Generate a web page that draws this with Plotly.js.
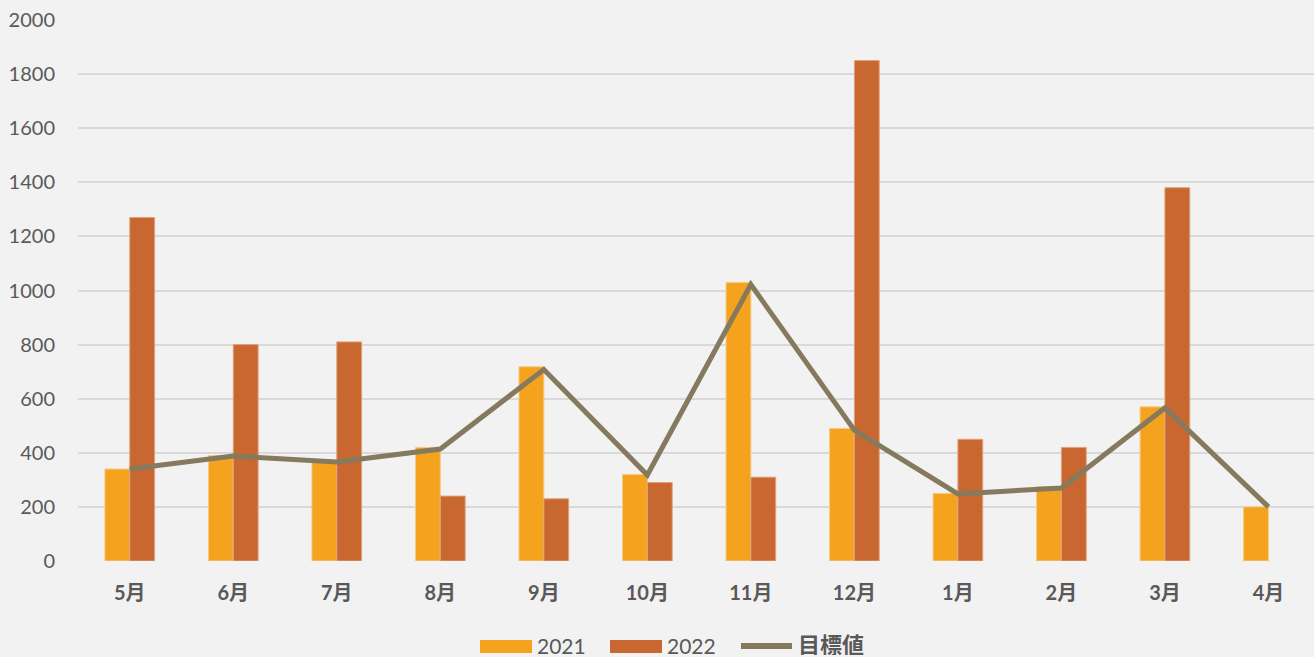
<!DOCTYPE html>
<html><head><meta charset="utf-8">
<script src="https://cdn.plot.ly/plotly-3.0.1.min.js"></script>
<style>html,body{margin:0;padding:0;background:#f2f2f2;overflow:hidden}</style>
</head><body>
<div id="chart" style="width:1314px;height:657px"></div>
<script>
const months = ["5月","6月","7月","8月","9月","10月","11月","12月","1月","2月","3月","4月"];
const sales2021 = [340, 390, 370, 420, 718, 320, 1030, 490, 250, 275, 570, 200];
const sales2022 = [1270, 800, 810, 240, 230, 290, 310, 1850, 450, 420, 1380, null];
const target = [340, 388, 366, 414, 708, 318, 1022, 484, 248, 270, 566, 200];
const seriesNames = ["2021", "2022", "目標値"];

const colors = ['#F5A31E', '#C86730', '#857A5E'];
const fontFam = "Lato, 'Noto Sans CJK JP', sans-serif";
const data = [
  {type:'bar', name:seriesNames[0], x:months, y:sales2021,
   marker:{color:colors[0], line:{color:'#F8C98A', width:1}}},
  {type:'bar', name:seriesNames[1], x:months, y:sales2022,
   marker:{color:colors[1], line:{color:'#E0A27C', width:1}}},
  {type:'scatter', mode:'lines', name:seriesNames[2], x:months, y:target,
   line:{color:colors[2], width:5}}
];

// custom legend (paper coordinates)
const W = 1236, H = 541, L = 78, B = 561;
const px = v => (v - L) / W;
const py = v => (B - v) / H;
const shapes = [
  {type:'rect', xref:'paper', yref:'paper', x0:px(480), x1:px(532), y0:py(653), y1:py(640),
   fillcolor:colors[0], line:{width:0}},
  {type:'rect', xref:'paper', yref:'paper', x0:px(610), x1:px(662), y0:py(653), y1:py(640),
   fillcolor:colors[1], line:{width:0}},
  {type:'line', xref:'paper', yref:'paper', x0:px(741), x1:px(792), y0:py(646), y1:py(646),
   line:{color:colors[2], width:6}}
];
const annotations = [
  {xref:'paper', yref:'paper', x:px(536), y:py(645), xanchor:'left', yanchor:'middle',
   height:22, borderpad:0, valign:'middle',
   text:seriesNames[0], showarrow:false, font:{size:21, color:'#595959'}},
  {xref:'paper', yref:'paper', x:px(666), y:py(645), xanchor:'left', yanchor:'middle',
   height:22, borderpad:0, valign:'middle',
   text:seriesNames[1], showarrow:false, font:{size:21, color:'#595959'}},
  {xref:'paper', yref:'paper', x:px(797), y:py(644), xanchor:'left', yanchor:'middle',
   height:22, borderpad:0, valign:'middle',
   text:'<b>'+seriesNames[2]+'</b>', showarrow:false, font:{size:22, color:'#595959'}}
];

const layout = {
  width:1314, height:657,
  paper_bgcolor:'#f2f2f2', plot_bgcolor:'#f2f2f2',
  margin:{l:78, r:0, t:20, b:96},
  barmode:'group', bargap:0.52, bargroupgap:0,
  font:{family:fontFam, color:'#595959', size:20},
  xaxis:{type:'category', range:[-0.5, 11.44], showgrid:false, zeroline:false,
         showline:false, ticks:'', ticklabelstandoff:18, automargin:false,
         tickfont:{size:20, color:'#595959', weight:'bold'}},
  yaxis:{range:[0,2000], dtick:200, showgrid:true, gridcolor:'#d9d9d9', gridwidth:2,
         zeroline:false, showline:false, ticks:'', ticklabelstandoff:22, automargin:false,
         tickfont:{size:20, color:'#595959'}},
  showlegend:false,
  shapes:shapes, annotations:annotations
};
Plotly.newPlot('chart', data, layout, {displayModeBar:false, responsive:false});
</script>
</body></html>
